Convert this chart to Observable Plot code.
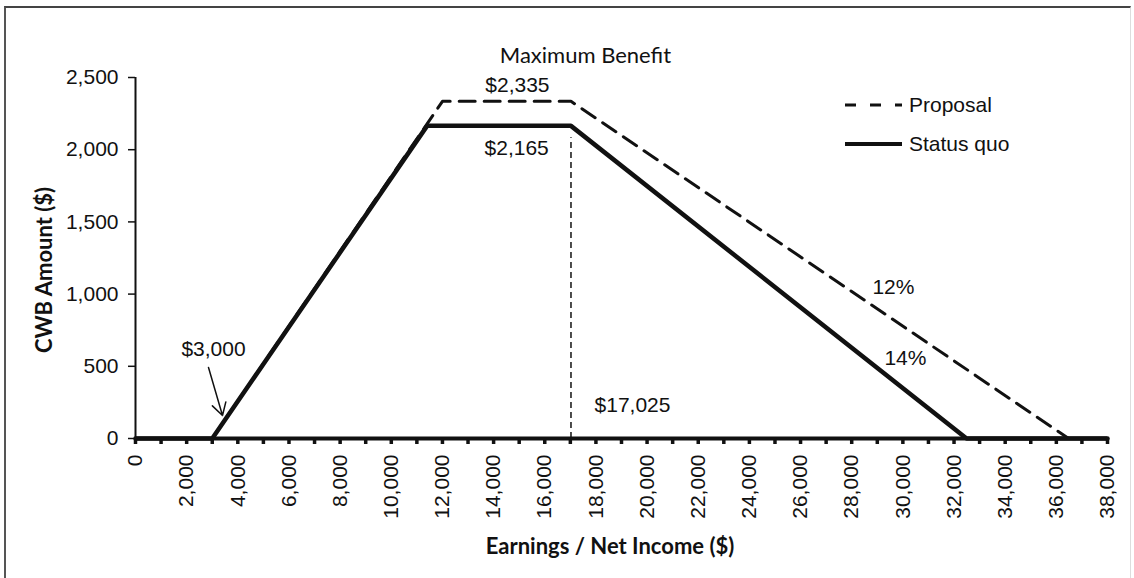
<!DOCTYPE html>
<html>
<head>
<meta charset="utf-8">
<script src="https://cdn.jsdelivr.net/npm/d3@7"></script>
<script src="https://cdn.jsdelivr.net/npm/@observablehq/plot@0.6"></script>
<style>
  html, body { margin: 0; padding: 0; background: #fff; overflow: hidden; }
  #wrap { position: relative; width: 1134px; height: 578px; }
  #frame { position: absolute; left: 4px; top: 6px; width: 1124px; height: 600px;
           border-top: 2px solid #444; border-left: 2px solid #555; border-right: 1px solid #ddd; }
  .title { position: absolute; font-family: Lato, "Open Sans", sans-serif; color: #111; white-space: nowrap; }
  .legend { position: absolute; font-family: "Liberation Sans", Arial, sans-serif; font-size: 21px; color: #111; }
</style>
</head>
<body>
<div id="wrap">
  <div id="frame"></div>
  <div id="chart"></div>
</div>
<script>
// ---- Data ----
const statusX = [0, 3000, 11400, 17025, 32490, 38000];
const statusY = [0, 0, 2165, 2165, 0, 0];
const proposalX = [3000, 12000, 17025, 36480];
const proposalY = [0, 2335, 2335, 0];

const xTicks = d3.range(0, 38001, 2000);
const xMinorTicks = d3.range(0, 38001, 1000);
const yTicks = [0, 500, 1000, 1500, 2000, 2500];

const maxBenefitIncome = 17025;
const maxStatus = 2165;

// annotations (positions in data units)
const noteLabels = ["Maximum Benefit", "$2,335", "$2,165", "$17,025", "$3,000", "12%", "14%"];
const noteX = [17590, 14930, 14900, 19430, 3050, 29630, 30100];
const noteY = [2652, 2445, 2008, 228, 616, 1046, 554];
const noteFont = ["Lato", null, null, null, null, null, null];

const arrowFrom = {x: 2854, y: 492};
const arrowTo = {x: 3401, y: 159};

const xTitle = "Earnings / Net Income ($)";
const yTitle = "CWB Amount ($)";
const legendLabels = ["Proposal", "Status quo"];

// ---- Build tables ----
const statusData = statusX.map((x, i) => ({x, y: statusY[i]}));
const proposalData = proposalX.map((x, i) => ({x, y: proposalY[i]}));
const notes = noteLabels.map((label, i) => ({label, x: noteX[i], y: noteY[i], font: noteFont[i]}));
const fmt = d3.format(",");

const W = 1134, H = 578;
const chart = Plot.plot({
  width: W,
  height: H,
  marginLeft: 135,
  marginRight: 27,
  marginTop: 77,
  marginBottom: 140,
  style: {fontFamily: '"Liberation Sans", Arial, sans-serif', fontSize: "21px", color: "#111", background: "transparent", overflow: "visible"},
  x: {domain: [0, 38000]},
  y: {domain: [0, 2500]},
  marks: [
    // y axis
    Plot.axisY({ticks: yTicks, tickFormat: fmt, tickSize: 7, tickPadding: 10, label: null, strokeWidth: 1.5}),
    Plot.ruleX([0], {y1: 0, y2: 2500, strokeWidth: 2, stroke: "#111"}),
    // x axis minor tick marks
    Plot.ruleX(xMinorTicks, {y1: 0, y2: 0, insetBottom: -6, stroke: "#111", strokeWidth: 3.5}),
    // x axis labels
    Plot.axisX({ticks: xTicks, tickSize: 0, tickPadding: 16, tickRotate: -90, tickFormat: fmt, label: null}),
    // vertical dashed line at maximum benefit end
    Plot.ruleX([maxBenefitIncome], {y1: 0, y2: maxStatus, stroke: "#111", strokeWidth: 1.5, strokeDasharray: "6,4", insetBottom: -12}),
    // proposal
    Plot.line(proposalData, {x: "x", y: "y", stroke: "#111", strokeWidth: 3, strokeDasharray: "16,9"}),
    // status quo
    Plot.line(statusData, {x: "x", y: "y", stroke: "#111", strokeWidth: 4.5, strokeLinejoin: "miter"}),
    // x axis baseline
    Plot.ruleY([0], {stroke: "#111", strokeWidth: 4}),
    // arrow
    Plot.arrow([{x1: arrowFrom.x, y1: arrowFrom.y, x2: arrowTo.x, y2: arrowTo.y}], {x1: "x1", y1: "y1", x2: "x2", y2: "y2", stroke: "#111", strokeWidth: 1.5, headLength: 14}),
    // annotations
    Plot.text(notes.filter(d => !d.font), {x: "x", y: "y", text: "label", fill: "#111", fontSize: 21}),
    Plot.text(notes.filter(d => d.font), {x: "x", y: "y", text: "label", fill: "#111", fontSize: 22, fontFamily: "Lato"})
  ]
});
chart.style.position = "absolute";
chart.style.left = "0px";
chart.style.top = "0px";
document.getElementById("chart").appendChild(chart);

// ---- Axis titles ----
const wrap = document.getElementById("wrap");
const xt = document.createElement("div");
xt.className = "title";
xt.textContent = xTitle;
xt.style.cssText += "left:610px;top:545px;transform:translate(-50%,-50%);font-weight:700;font-size:22px;";
wrap.appendChild(xt);

const yt = document.createElement("div");
yt.className = "title";
yt.textContent = yTitle;
yt.style.cssText += "left:43px;top:270px;transform:translate(-50%,-50%) rotate(-90deg);font-weight:700;font-size:22px;";
wrap.appendChild(yt);

// ---- Legend ----
const legendDash = ["11,14", null];
const legendY = [105, 144];
legendLabels.forEach((lab, i) => {
  const svg = d3.select(wrap).append("svg")
    .style("position", "absolute").style("left", "845px").style("top", (legendY[i] - 6) + "px")
    .attr("width", 60).attr("height", 12);
  svg.append("line").attr("x1", 0).attr("x2", 57).attr("y1", 6).attr("y2", 6)
    .attr("stroke", "#111").attr("stroke-width", i === 0 ? 3 : 4)
    .attr("stroke-dasharray", legendDash[i]);
  const t = document.createElement("div");
  t.className = "legend";
  t.textContent = lab;
  t.style.left = "909px";
  t.style.top = legendY[i] + "px";
  t.style.transform = "translateY(-50%)";
  wrap.appendChild(t);
});
</script>
</body>
</html>
